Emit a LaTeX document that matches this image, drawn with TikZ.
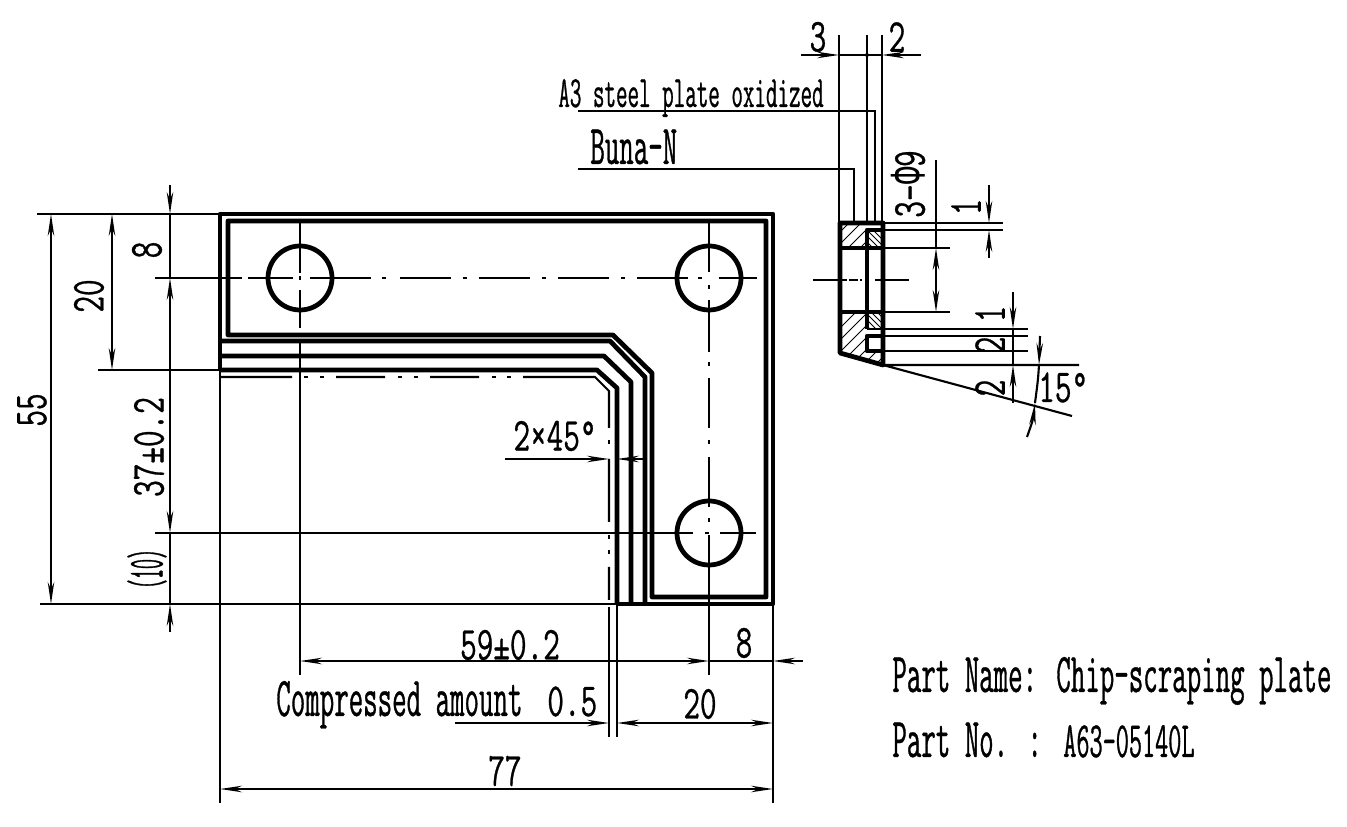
\documentclass[tikz,border=0pt]{standalone}
\usepackage{fontspec}
\usetikzlibrary{arrows.meta}
\newfontfamily\cadfont[FakeStretch=0.68,FakeBold=0.6]{Latin Modern Mono}
\newfontfamily\tallfont[FakeStretch=0.5,FakeBold=0.6]{Latin Modern Mono}
\newfontfamily\narrowfont[FakeStretch=0.38,FakeBold=0.6]{Latin Modern Mono}
\newfontfamily\phifont[FakeStretch=0.57]{Liberation Mono}
\begin{document}
\begin{tikzpicture}[x=.02cm,y=-.02cm,
    >={Stealth[length=4.4mm,width=1.3mm]},
    outline/.style={line width=2.7pt,line join=round},
    thin line/.style={line width=1.2pt},
    dimline/.style={line width=1.2pt},
    hatch/.style={line width=.5pt},
    centerline/.style={line width=1.2pt,dash pattern=on 29pt off 7pt on 2pt off 7pt},
    lbl/.style={font=\cadfont\fontsize{27}{27}\selectfont,inner sep=0pt},
    tall/.style={font=\tallfont\fontsize{32}{32}\selectfont,inner sep=0pt},
    tallb/.style={font=\tallfont\fontsize{29}{29}\selectfont,inner sep=0pt},
    small/.style={font=\tallfont\fontsize{25.5}{25.5}\selectfont,inner sep=0pt}]
  \useasboundingbox (0,0) rectangle (1347,827);

  % plate
  \draw[outline] (220,370) -- (220,214) -- (773,214) -- (773,604) -- (617,604);
  \draw[outline] (228,221) -- (766,221) -- (766,597) -- (652,597) -- (652,373)
     -- (613,335) -- (228,335) -- cycle;
  \draw[outline] (220,341) -- (610,341) -- (645,377) -- (645,604);
  \draw[outline] (220,356) -- (604,356) -- (631,382) -- (631,604);
  \draw[outline] (220,370) -- (597,370) -- (617,388) -- (617,604);
  \foreach \cx/\cy in {300/278,709/278,709/533}
    \draw[outline] (\cx,\cy) circle (32);

  % compressed edge
  \draw[thin line] (220,377) -- (292,377) (336,377) -- (385,377) (430,377) -- (479,377)
     (523,377) -- (595,377) -- (609,391) -- (609,428) (609,459) -- (609,522) (609,567) -- (609,600);
  \foreach \dx in {306,322,400,416,494,509}
    \draw[thin line] (\dx-2,377) -- (\dx+2,377);
  \foreach \dy in {442,537,552}
    \draw[thin line] (609,\dy-2) -- (609,\dy+2);

  % center lines
  \draw[thin line] (155,278) -- (242,278) (248,278) -- (293,278) (310,278) -- (371,278);
  \draw[thin line] (382,278) -- (386,278);
  \draw[centerline] (400,278) -- (688,278);
  \draw[thin line] (698,278) -- (702,278) (719,278) -- (757,278);
  \draw[thin line] (155,533) -- (693,533) (705,533) -- (709,533) (720,533) -- (756,533);
  \draw[thin line] (300,221) -- (300,273) (300,276) -- (300,280) (300,290) -- (300,328) (300,340) -- (300,675);
  \draw[thin line] (709,221) -- (709,272) (709,285) -- (709,289) (709,300) -- (709,352)
     (709,362) -- (709,366) (709,378) -- (709,428) (709,440) -- (709,444) (709,457) -- (709,507)
     (709,518) -- (709,522) (709,535) -- (709,675);

  % extension lines
  \draw[thin line] (37,214) -- (220,214) (98,370) -- (220,370) (40,604) -- (617,604);
  \draw[thin line] (220,370) -- (220,803) (773,604) -- (773,803);
  \draw[thin line] (617,604) -- (617,737) (609,607) -- (609,737);

  % left dimensions
  \draw[dimline,<->] (51,214) -- (51,604);
  \draw[dimline,<->] (112,214) -- (112,370);
  \draw[dimline,->] (170,185) -- (170,214);
  \draw[dimline] (170,214) -- (170,278) (170,533) -- (170,604);
  \draw[dimline,<->] (170,278) -- (170,533);
  \draw[dimline,<-] (170,604) -- (170,632);
  \node[lbl,rotate=90] (lenall) at (32,410) {55};
  \node[lbl,rotate=90] (lenhole) at (89,296) {20};
  \node[lbl,rotate=90] (lenedge) at (147,250) {8};
  \node[lbl,rotate=90] (lenpitch) at (149,447) {37±0.2};
  \node[font=\narrowfont\fontsize{29}{29}\selectfont,inner sep=0pt,rotate=90] (lenrest) at (147,569) {(10)};

  % bottom dimensions
  \draw[dimline,<->] (300,661) -- (709,661);
  \draw[dimline,<-] (773,661) -- (803,661);
  \draw[dimline] (709,661) -- (773,661);
  \draw[dimline,->] (455,723) -- (609,723);
  \draw[dimline,<->] (617,723) -- (773,723);
  \draw[dimline,<->] (220,789) -- (773,789);
  \draw[dimline,->] (505,459) -- (609,459);
  \draw[dimline,<-] (617,459) -- (643,459);
  \node[lbl] (widpitch) at (510,645) {59±0.2};
  \node[lbl] (widedge) at (744,643) {8};
  \node[tall,anchor=base west] (comp) at (276,716) {Compressed amount};
  \node[lbl,anchor=base west] (comptol) at (547,716) {0.5};
  \node[lbl] (widinner) at (700,704) {20};
  \node[lbl] (widall) at (505,771) {77};
  \node[lbl] (chamfer) at (555,436) {2×45°};

  % title
  \node[tall,anchor=base west] (pname) at (892,692) {Part Name: Chip-scraping plate};
  \node[tall,anchor=base west] (pno) at (892,757) {Part No. :};
  \node[tallb,anchor=base west] (pnum) at (1063,757) {A63-05140L};

  % section hatching
  \begin{scope}
    \clip (840,223) rectangle (867,248) (840,312) -- (867,312) -- (867,351) -- (883,351)
       -- (883,365) -- (840,353) -- cycle;
    \foreach \k in {0,12,...,190}
      \draw[hatch] (\k+690,370) -- ++(150,-150);
  \end{scope}
  \begin{scope}
    \clip (867,230) rectangle (883,248) (867,312) rectangle (883,329);
    \foreach \k in {0,6,...,120}
      \draw[hatch] (\k+745,210) -- ++(140,140);
  \end{scope}

  % section
  \draw[outline] (840,223) -- (883,223) -- (883,365) -- (840,353) -- cycle;
  \draw[outline] (840,248) -- (883,248) (840,312) -- (883,312);
  \draw[outline] (883,230) -- (867,230) -- (867,329);
  \draw[outline] (883,336) -- (867,336) -- (867,351) -- (883,351);
  \draw[thin line] (867,329) -- (883,329);
  \draw[thin line] (813,280) -- (847,280) (849,280) -- (858,280) (860,280) -- (862,280) (875,280) -- (909,280);

  % section extensions
  \draw[thin line] (839,35) -- (839,223) (867,35) -- (867,223) (882,35) -- (882,223);
  \draw[thin line] (883,223) -- (1003,223) (883,230) -- (1003,230);
  \draw[thin line] (883,248) -- (950,248) (883,312) -- (950,312);
  \draw[thin line] (883,329) -- (1028,329) (883,336) -- (1028,336) (883,351) -- (1028,351);
  \draw[thin line] (883,365) -- (1079,365) (883,365) -- (1072,416);
  % leaders
  \draw[thin line] (578,111) -- (875,111) -- (875,223);
  \draw[thin line] (578,169) -- (854,169) -- (854,223);
  \node[small,anchor=base west] (steel) at (558,107) {A3 steel plate oxidized};
  \node[tall,anchor=base west] (buna) at (590,164) {Buna-N};

  % section dimensions
  \draw[dimline,->] (801,55) -- (839,55);
  \draw[dimline] (839,55) -- (882,55);
  \draw[dimline,<-] (882,55) -- (921,55);
  \fill (867,55) circle (2);
  \node[lbl] (thka) at (818,37) {3};
  \node[lbl] (thkb) at (897,37) {2};
  \draw[dimline] (936,160) -- (936,248);
  \draw[dimline,<->] (936,248) -- (936,312);
  \node[lbl,rotate=90] (holes) at (908,184) {3-{\phifont\fontsize{29}{29}\selectfont Φ}9};
  \draw[dimline,->] (989,185) -- (989,223);
  \draw[dimline,<-] (989,230) -- (989,258);
  \node[lbl,rotate=90] (groovea) at (966,207) {1};
  \draw[dimline,->] (1013,292) -- (1013,329);
  \draw[dimline] (1013,329) -- (1013,365);
  \draw[dimline,<-] (1013,365) -- (1013,403);
  \node[lbl,rotate=90] (grooveb) at (990,314) {1};
  \node[lbl,rotate=90] (groovec) at (990,345) {2};
  \node[lbl,rotate=90] (grooved) at (990,388) {2};
  \draw[dimline,->] (1040,336) -- (1039,365);
  \draw[dimline] (1039,365) .. controls (1038,380) .. (1035,403);
  \draw[dimline,<-] (1035,403) .. controls (1033,420) .. (1027,437);
  \node[lbl,anchor=base west] (angle) at (1038,402) {15°};
\end{tikzpicture}
\end{document}
